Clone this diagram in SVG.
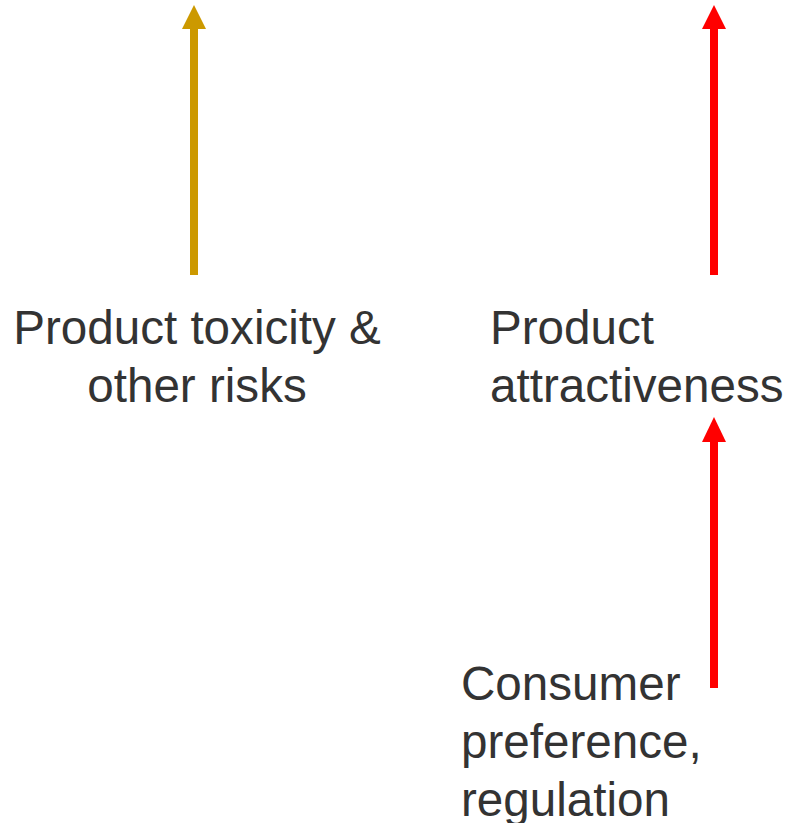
<svg xmlns="http://www.w3.org/2000/svg" width="790" height="823" viewBox="0 0 790 823">
<style>
.lbl{font-family:"Liberation Sans",Arial,sans-serif;font-size:47.6px;fill:#333333}
.gold{stroke:#CC9900;fill:#CC9900}
.red{stroke:#FF0000;fill:#FF0000}
</style>
<rect width="790" height="823" fill="#ffffff"/>
<g id="connectors">
<g id="arrow-toxicity" class="gold">
<line x1="194" y1="275" x2="194" y2="26" stroke-width="8"/>
<polygon points="194,5 206,29 182,29" stroke="none"/>
</g>
<g id="arrow-attractiveness" class="red">
<line x1="714" y1="275" x2="714" y2="26" stroke-width="8"/>
<polygon points="714,5 726,29 702,29" stroke="none"/>
</g>
<g id="arrow-consumer" class="red">
<line x1="714" y1="688" x2="714" y2="440" stroke-width="8"/>
<polygon points="714,417 726,442 702,442" stroke="none"/>
</g>
</g>
<g id="node-toxicity">
<text class="lbl" text-anchor="middle"><tspan x="197" y="344">Product toxicity &amp;</tspan><tspan x="197" y="402">other risks</tspan></text>
</g>
<g id="node-attractiveness">
<text class="lbl"><tspan x="490" y="344">Product</tspan><tspan x="490" y="402">attractiveness</tspan></text>
</g>
<g id="node-consumer">
<text class="lbl"><tspan x="461" y="700">Consumer</tspan><tspan x="461" y="758">preference,</tspan><tspan x="461" y="816">regulation</tspan></text>
</g>
</svg>
